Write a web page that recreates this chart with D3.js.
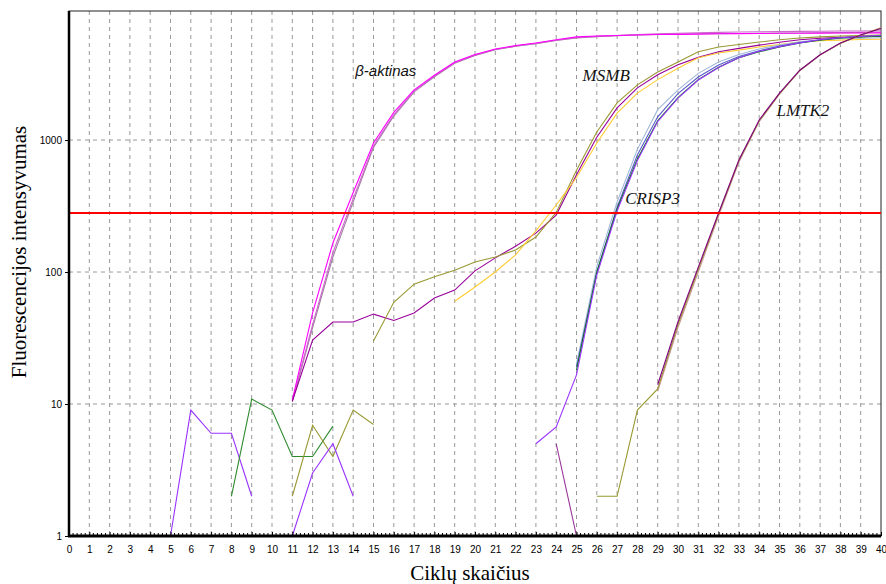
<!DOCTYPE html>
<html lang="lt">
<head>
<meta charset="UTF-8">
<title>Amplifikacijos kreivės</title>
<script src="https://d3js.org/d3.v7.min.js"></script>
<style>
    body { margin: 0; background: #fff; }
    .tick text { font-family: "Liberation Sans", Arial, sans-serif; font-size: 10px; fill: #000; }
    .axisTitle { font-family: "Liberation Serif", "Times New Roman", serif; font-size: 21px; fill: #000; }
    .geneLabel { font-family: "Liberation Serif", "Times New Roman", serif; font-style: italic; font-size: 17px; fill: #111; }
</style>
</head>
<body>
<svg id="chart" width="886" height="584"></svg>
<script>
    // ciklai 0..40, y log skalė
    let cycleTicks = d3.range(0, 41)
    let yTicks = [1, 10, 100, 1000]
    let threshold = 280

    // beta-aktinas (nuo 11 ciklo)
    let actinA = [10.7, 49, 166, 400, 950, 1620, 2400, 3100, 3900, 4450, 4900, 5200, 5430, 5750, 6050, 6150, 6200, 6250, 6300, 6320, 6350, 6380, 6400, 6420, 6440, 6450, 6460, 6470, 6480, 6490]
    let actinB = [10.5, 40, 140, 360, 900, 1550, 2350, 3050, 3850, 4400, 4850, 5150, 5400, 5700, 5950, 6100, 6200, 6300, 6380, 6440, 6500, 6540, 6580, 6610, 6640, 6660, 6680, 6700, 6710, 6720]
    let actinC = [10.4, 38, 130, 340, 880, 1520, 2320, 3020, 3820, 4380, 4830, 5130, 5380, 5680, 5930, 6080, 6180, 6250, 6300, 6350, 6380, 6400, 6420, 6440, 6460, 6480, 6500, 6520, 6540, 6560]
    // MSMB
    let msmbPurple = [10.5, 30.5, 41.8, 41.8, 48, 43, 49, 63.5, 73, 102, 128, 157, 197, 270, 546, 1050, 1750, 2485, 3120, 3720, 4230, 4660, 4950, 5240, 5500, 5750, 5900, 6000, 6080, 6130] // nuo 11
    let msmbOlive = [30, 59, 81, 92, 103, 119, 130, 147, 184, 283, 590, 1150, 1910, 2620, 3280, 3900, 4660, 5070, 5300, 5530, 5750, 5930, 6050, 6150, 6200, 6240] // nuo 15
    let msmbYellow = [60, 77, 100, 135, 205, 322, 520, 950, 1600, 2270, 2870, 3500, 4200, 4560, 4800, 5070, 5300, 5530, 5650, 5720, 5780, 5800] // nuo 19
    // CRISP3
    let crispGreen = [18, 100, 300, 720, 1400, 2100, 2870, 3560, 4200, 4660, 5070, 5430, 5700, 5930, 6050, 6130] // nuo 25
    let crispViolet = [5, 6.7, 16.6, 95, 290, 700, 1380, 2080, 2850, 3550, 4200, 4700, 5100, 5450, 5750, 5950, 6100, 6200] // nuo 23
    let crispBlue = [19, 100, 310, 770, 1500, 2250, 3000, 3700, 4300, 4750, 5150, 5480, 5750, 5950, 6080, 6150] // nuo 25
    let crispLight = [20, 110, 340, 850, 1700, 2400, 3200, 3900, 4450, 4900, 5250, 5550, 5750, 5850, 5900, 5950] // nuo 25
    // LMTK2
    let lmtkPurple = [14, 42, 109, 280, 705, 1420, 2270, 3380, 4430, 5430, 6240, 7000] // nuo 29
    let lmtkTan = [12.5, 38, 100, 265, 680, 1380, 2230, 3350, 4400, 5400, 6250, 7100] // nuo 29
    let lmtkOlive = [2, 2, 9, 13, 40, 105, 275, 700, 1400, 2250, 3370, 4420, 5420, 6250, 7050] // nuo 26
    // triukšmas apačioje
    let noiseViolet1 = [1, 9, 6, 6, 2] // nuo 5
    let noiseGreen = [2, 10.9, 9, 4, 4, 6.8] // nuo 8
    let noiseOlive = [2, 6.9, 4, 9, 7] // nuo 11
    let noiseViolet2 = [1, 3, 5, 2] // nuo 11
    let noisePurple = [5, 1] // nuo 24

    let series = [
        { start: 5, values: noiseViolet1, color: "#9933ff" },
        { start: 8, values: noiseGreen, color: "#2e8b2e" },
        { start: 11, values: noiseOlive, color: "#999933" },
        { start: 11, values: noiseViolet2, color: "#9933ff" },
        { start: 24, values: noisePurple, color: "#993399" },
        { start: 11, values: actinC, color: "#a080a0" },
        { start: 11, values: actinB, color: "#cc66cc" },
        { start: 11, values: actinA, color: "#ff00ff" },
        { start: 11, values: msmbPurple, color: "#990099" },
        { start: 15, values: msmbOlive, color: "#999933" },
        { start: 19, values: msmbYellow, color: "#ffcc33" },
        { start: 25, values: crispLight, color: "#a0b8d8" },
        { start: 25, values: crispBlue, color: "#5a5ad0" },
        { start: 25, values: crispGreen, color: "#008000" },
        { start: 23, values: crispViolet, color: "#9933ff" },
        { start: 29, values: lmtkTan, color: "#cc9999" },
        { start: 26, values: lmtkOlive, color: "#999933" },
        { start: 29, values: lmtkPurple, color: "#800080" }
    ]

    let labels = [
        { text: "β-aktinas", cycle: 14.1, value: 3050, sans: true },
        { text: "MSMB", cycle: 25.3, value: 2800 },
        { text: "CRISP3", cycle: 27.4, value: 325 },
        { text: "LMTK2", cycle: 34.85, value: 1520 }
    ]

    let width = 886, height = 584
    let margin = { top: 11, right: 5, bottom: 48, left: 69 }
    let svg = d3.select("#chart")

    let x = d3.scaleLinear().domain([0, 40]).range([margin.left, width - margin.right])
    let y = d3.scaleLog().domain([1, 9500]).range([height - margin.bottom, margin.top])

    // tinklelis
    svg.append("g").selectAll("line")
        .data(cycleTicks.slice(1, 40))
        .enter().append("line")
        .attr("x1", d => x(d)).attr("x2", d => x(d))
        .attr("y1", y.range()[1]).attr("y2", y.range()[0])
        .attr("stroke", "#999").attr("stroke-dasharray", "4,4")
    svg.append("g").selectAll("line")
        .data(yTicks.slice(1))
        .enter().append("line")
        .attr("x1", x.range()[0]).attr("x2", x.range()[1])
        .attr("y1", d => y(d)).attr("y2", d => y(d))
        .attr("stroke", "#999").attr("stroke-dasharray", "4,4")

    // rėmas
    svg.append("rect")
        .attr("x", x.range()[0]).attr("y", y.range()[1])
        .attr("width", x.range()[1] - x.range()[0]).attr("height", y.range()[0] - y.range()[1])
        .attr("fill", "none").attr("stroke", "#222").attr("stroke-width", 1)

    // kreivės
    let line = d3.line().x(d => x(d[0])).y(d => y(d[1]))
    svg.append("g").selectAll("path")
        .data(series)
        .enter().append("path")
        .attr("d", s => line(s.values.map((v, i) => [s.start + i, v])))
        .attr("fill", "none")
        .attr("stroke", s => s.color)
        .attr("stroke-width", 1.1)

    // slenkstis
    svg.append("line")
        .attr("x1", x.range()[0]).attr("x2", x.range()[1])
        .attr("y1", y(threshold)).attr("y2", y(threshold))
        .attr("stroke", "#ff0000").attr("stroke-width", 2)

    // ašys
    let xAxis = svg.append("g")
        .attr("transform", `translate(0,${y.range()[0]})`)
        .call(d3.axisBottom(x).tickValues(cycleTicks).tickFormat(d3.format("d")).tickSize(4))
    xAxis.select(".domain").remove()
    xAxis.selectAll(".tick line").attr("y1", -4).attr("y2", 0)
    xAxis.selectAll(".tick text").attr("dy", "0.95em")
    svg.append("g").selectAll("line")
        .data(d3.range(0, 200).filter(i => i % 5 != 0).map(i => i / 5))
        .enter().append("line")
        .attr("x1", d => x(d)).attr("x2", d => x(d))
        .attr("y1", y.range()[0] - 3).attr("y2", y.range()[0])
        .attr("stroke", "#000")

    let yAxis = svg.append("g")
        .attr("transform", `translate(${margin.left},0)`)
        .call(d3.axisLeft(y).tickValues(yTicks).tickFormat(d3.format("d")).tickSize(4))
    yAxis.select(".domain").remove()

    svg.append("line")
        .attr("x1", margin.left).attr("x2", margin.left)
        .attr("y1", y.range()[1]).attr("y2", y.range()[0] + 1)
        .attr("stroke", "#000").attr("stroke-width", 2.5)
    svg.append("line")
        .attr("x1", margin.left - 1).attr("x2", x.range()[1])
        .attr("y1", y.range()[0]).attr("y2", y.range()[0])
        .attr("stroke", "#000").attr("stroke-width", 3)

    // užrašai
    svg.append("g").selectAll("text")
        .data(labels)
        .enter().append("text")
        .attr("class", "geneLabel")
        .attr("x", d => x(d.cycle)).attr("y", d => y(d.value))
        .style("font-family", d => d.sans ? "'Liberation Sans', Arial, sans-serif" : null)
        .style("font-size", d => d.sans ? "15px" : null)
        .text(d => d.text)

    svg.append("text")
        .attr("class", "axisTitle")
        .attr("text-anchor", "middle")
        .attr("x", 470).attr("y", 580)
        .text("Ciklų skaičius")
    svg.append("text")
        .attr("class", "axisTitle")
        .attr("text-anchor", "middle")
        .attr("transform", "translate(26,252) rotate(-90)")
        .text("Fluorescencijos intensyvumas")
</script>
</body>
</html>
